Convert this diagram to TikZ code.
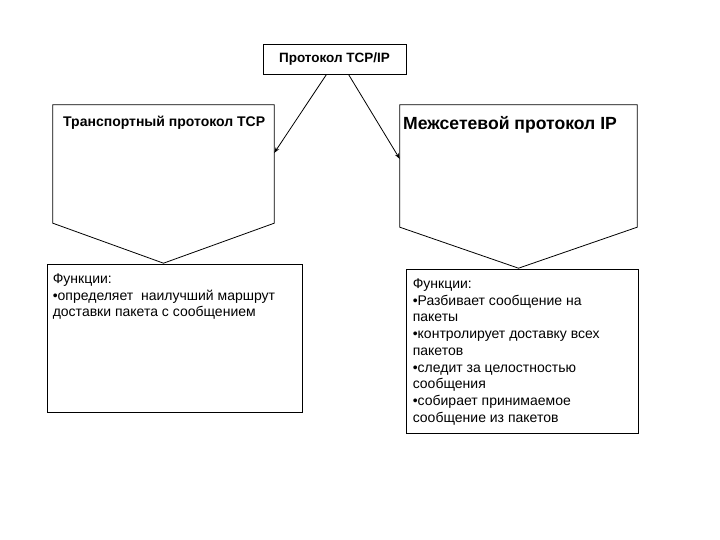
\documentclass[tikz,border=0pt]{standalone}
\usepackage{fontspec}
\setmainfont{Liberation Sans}
\usetikzlibrary{arrows.meta, calc}

\begin{document}
\begin{tikzpicture}[x=1pt, y=-1pt, >={Stealth[length=6pt, width=4pt]},
    line/.style={draw=black, line width=0.8pt},
    topbox/.style={line, minimum width=143pt, minimum height=30pt, inner sep=0pt,
      font=\bfseries\fontsize{13.5}{15}\selectfont},
    pentbox/.style={inner sep=0pt},
    funcbox/.style={line, inner sep=0pt},
    functext/.style={anchor=north west, inner sep=0pt, align=left,
      font=\fontsize{14}{16.7}\selectfont}]
  \useasboundingbox (0,0) rectangle (720,540);

  % top
  \node[topbox] (tcpip) at (334.5,59) {Протокол TCP/IP};

  % pentagons
  \node[pentbox, minimum width=221pt, minimum height=118pt] (tcp) at (163.5,164) {};
  \node[pentbox, minimum width=237pt, minimum height=122pt] (ip)  at (518.5,166) {};
  \draw[line] (tcp.north west) -- (tcp.north east) -- (tcp.south east)
    -- ($(tcp.south)+(0,40)$) -- (tcp.south west) -- cycle;
  \draw[line] (ip.north west) -- (ip.north east) -- (ip.south east)
    -- ($(ip.south)+(0,41)$) -- (ip.south west) -- cycle;
  \node[anchor=base west, inner sep=0pt, font=\bfseries\fontsize{14}{16}\selectfont]
    (tcptitle) at (63,127) {Транспортный протокол TCP};
  \node[anchor=base west, inner sep=0pt, font=\bfseries\fontsize{17.6}{19}\selectfont]
    (iptitle) at (403,130) {Межсетевой протокол IP};

  % arrows
  \draw[line, ->] ($(tcpip.south)+(-8,0)$) -- ($(tcp.east)+(0,-11)$);
  \draw[line, ->] ($(tcpip.south)+(14,0)$) -- ($(ip.west)+(0,-7)$);

  % functions
  \node[funcbox, minimum width=255pt, minimum height=148pt] (tcpfunc) at (174.5,338) {};
  \node[funcbox, minimum width=232pt, minimum height=164pt] (ipfunc)  at (522,351) {};
  \node[functext] (tcptext) at ($(tcpfunc.north west)+(6,10)$)
    {Функции:\\
     •определяет\ \ наилучший маршрут\\
     доставки пакета с сообщением};
  \node[functext] (iptext) at ($(ipfunc.north west)+(7,10)$)
    {Функции:\\
     •Разбивает сообщение на\\
     пакеты\\
     •контролирует доставку всех\\
     пакетов\\
     •следит за целостностью\\
     сообщения\\
     •собирает принимаемое\\
     сообщение из пакетов};
\end{tikzpicture}
\end{document}
